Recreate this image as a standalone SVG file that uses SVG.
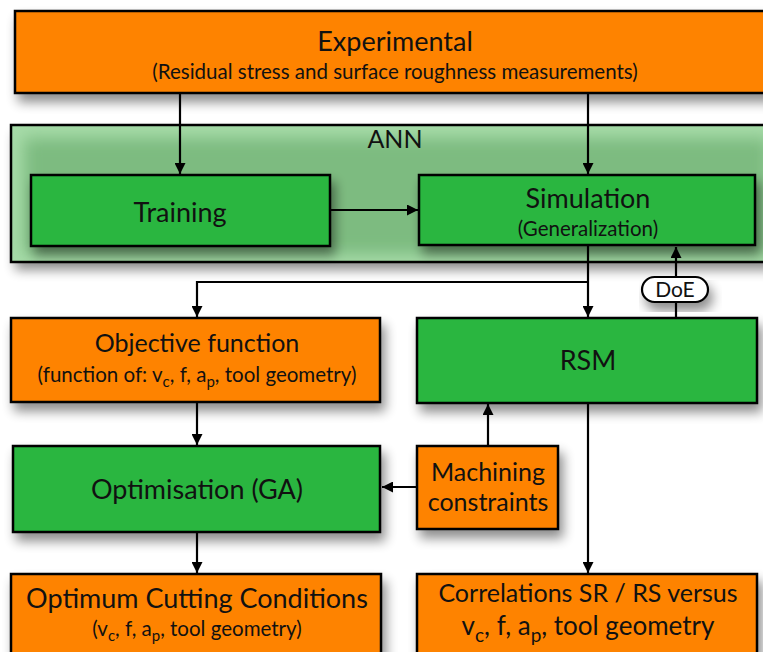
<svg xmlns="http://www.w3.org/2000/svg" width="763" height="652" viewBox="0 0 763 652">
<defs>
<style>
.box{stroke:#000;stroke-width:2.5}
.or{fill:#fe8300}
.gr{fill:#2ab63f}
.t{font-family:Lato,"Open Sans",sans-serif;fill:#111;text-anchor:middle}
.big{font-size:27px}
.mid{font-size:25px}
.sm{font-size:20.5px}
.ln{stroke:#000;stroke-width:2.2;fill:none}
</style>
<marker id="ah" viewBox="0 0 10 10" refX="10" refY="5" markerWidth="5" markerHeight="5" orient="auto" markerUnits="strokeWidth">
<path d="M0,0 L10,5 L0,10 z" fill="#000"/>
</marker>
<filter id="sh" x="-10%" y="-20%" width="130%" height="160%">
<feGaussianBlur in="SourceAlpha" stdDeviation="6"/>
<feOffset dx="4" dy="8" result="b"/>
<feComponentTransfer><feFuncA type="linear" slope="0.45"/></feComponentTransfer>
<feMerge><feMergeNode/><feMergeNode in="SourceGraphic"/></feMerge>
</filter>
<filter id="blur"><feGaussianBlur stdDeviation="8"/></filter>
<clipPath id="annclip"><rect x="11" y="125" width="760" height="137"/></clipPath>
</defs>
<rect width="763" height="652" fill="#fff"/>

<g id="ann">
<rect x="11" y="125" width="760" height="137" fill="#a6dba8" filter="url(#sh)"/>
<rect x="24" y="138" width="745" height="116" fill="#7dbb80" filter="url(#blur)" clip-path="url(#annclip)"/>
<rect x="11" y="125" width="760" height="137" fill="none" class="box"/>
<text class="t mid" x="395" y="148">ANN</text>
</g>

<g id="experimental">
<rect class="box or" x="15" y="11" width="760" height="82" filter="url(#sh)"/>
<text class="t big" x="395" y="51">Experimental</text>
<text class="t sm" x="395" y="79">(Residual stress and surface roughness measurements)</text>
</g>

<g id="training">
<rect class="box gr" x="31" y="175" width="299" height="71" filter="url(#sh)"/>
<text class="t big" x="180" y="222">Training</text>
</g>

<g id="simulation">
<rect class="box gr" x="419" y="175" width="336" height="70" filter="url(#sh)"/>
<text class="t big" x="588" y="208">Simulation</text>
<text class="t sm" x="588" y="236">(Generalization)</text>
</g>

<g id="objective">
<rect class="box or" x="11" y="318" width="369" height="84" filter="url(#sh)"/>
<text class="t mid" x="197" y="352">Objective function</text>
<text class="t sm" x="197" y="382">(function of:  v<tspan font-size="15" dy="5">c</tspan><tspan dy="-5">, f, a</tspan><tspan font-size="15" dy="5">p</tspan><tspan dy="-5">, tool geometry)</tspan></text>
</g>

<g id="rsm">
<rect class="box gr" x="417" y="318" width="340" height="85" filter="url(#sh)"/>
<text class="t big" x="588" y="370">RSM</text>
</g>

<g id="optimisation">
<rect class="box gr" x="13" y="446" width="367" height="86" filter="url(#sh)"/>
<text class="t big" x="197" y="499">Optimisation (GA)</text>
</g>

<g id="machining">
<rect class="box or" x="417" y="446" width="141" height="83" filter="url(#sh)"/>
<text class="t mid" x="488" y="481">Machining</text>
<text class="t mid" x="488" y="511">constraints</text>
</g>

<g id="optimum">
<rect class="box or" x="11" y="574" width="370" height="90" filter="url(#sh)"/>
<text class="t big" x="197" y="608">Optimum Cutting Conditions</text>
<text class="t sm" x="197" y="636">(v<tspan font-size="15" dy="5">c</tspan><tspan dy="-5">, f, a</tspan><tspan font-size="15" dy="5">p</tspan><tspan dy="-5">, tool geometry)</tspan></text>
</g>

<g id="correlations">
<rect class="box or" x="417" y="574" width="340" height="90" filter="url(#sh)"/>
<text class="t mid" x="588" y="602">Correlations SR / RS versus</text>
<text class="t" font-size="26" x="588" y="635">v<tspan font-size="19" dy="7">c</tspan><tspan dy="-7">, f, a</tspan><tspan font-size="19" dy="7">p</tspan><tspan dy="-7">, tool geometry</tspan></text>
</g>

<g id="connectors">
<line class="ln" x1="180" y1="93" x2="180" y2="174" marker-end="url(#ah)"/>
<line class="ln" x1="588" y1="93" x2="588" y2="174" marker-end="url(#ah)"/>
<line class="ln" x1="331" y1="210" x2="418" y2="210" marker-end="url(#ah)"/>
<line class="ln" x1="588" y1="246" x2="588" y2="317" marker-end="url(#ah)"/>
<polyline class="ln" points="588,282 197,282 197,317" marker-end="url(#ah)"/>
<line class="ln" x1="676" y1="318" x2="676" y2="247" marker-end="url(#ah)"/>
<line class="ln" x1="197" y1="403" x2="197" y2="445" marker-end="url(#ah)"/>
<line class="ln" x1="416" y1="487" x2="382" y2="487" marker-end="url(#ah)"/>
<line class="ln" x1="488" y1="446" x2="488" y2="404" marker-end="url(#ah)"/>
<line class="ln" x1="197" y1="533" x2="197" y2="573" marker-end="url(#ah)"/>
<line class="ln" x1="588" y1="404" x2="588" y2="573" marker-end="url(#ah)"/>
</g>

<g id="doe">
<rect x="642" y="277" width="66" height="25" rx="12.5" fill="#fff" stroke="#000" stroke-width="2.2" filter="url(#sh)"/>
<text class="t" font-size="21" x="675" y="297">DoE</text>
</g>
</svg>
